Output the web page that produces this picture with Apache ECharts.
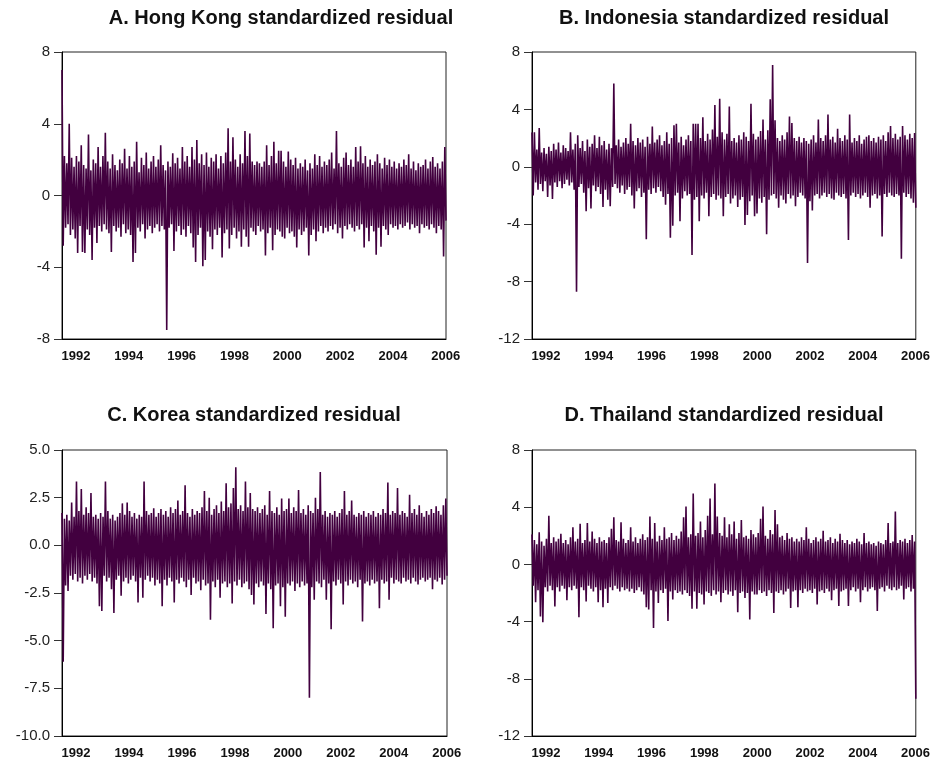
<!DOCTYPE html>
<html>
<head>
<meta charset="utf-8">
<script src="https://cdn.jsdelivr.net/npm/echarts@6/dist/echarts.min.js"></script>
<style>
html,body{margin:0;padding:0;background:#fff;}
#chart{width:933px;height:760px;}
</style>
</head>
<body>
<div id="chart"></div>
<script>
// Panel titles
const panelTitles = [
  'A. Hong Kong standardized residual',
  'B. Indonesia standardized residual',
  'C. Korea standardized residual',
  'D. Thailand standardized residual'
];
// x-axis tick labels (years)
const yearTicks = [1992, 1994, 1996, 1998, 2000, 2002, 2004, 2006];
// sample span (decimal years)
const startYear = 1991.47;
const endYear = 2006.01;

// Per-column upper / lower envelope of each residual series
const hkHi = [7.0,2.2,1.8,4.0,2.1,1.6,2.2,1.9,2.8,1.7, 1.5,3.4,1.4,2.0,1.8,2.7,1.6,2.2,3.5,1.9,
  1.5,2.3,1.7,1.4,2.0,1.8,2.6,1.5,2.2,1.6, 1.9,3.0,1.3,2.1,1.7,2.4,1.5,1.9,2.2,1.6,
  2.0,2.8,1.7,1.4,1.9,1.6,2.35,1.8,2.1,1.5, 2.7,1.9,2.2,1.6,2.7,2.0,3.1,1.8,2.3,1.7,
  2.4,1.6,2.1,1.9,2.3,1.5,2.2,1.8,2.4,3.75, 1.9,3.25,2.0,1.6,2.3,1.8,3.6,2.2,3.45,1.9,
  1.7,1.9,1.8,1.6,1.9,2.8,1.7,2.2,3.0,1.8, 2.5,2.5,1.9,1.6,2.45,2.0,1.7,2.1,1.5,1.8,
  1.6,2.0,1.4,1.8,1.5,2.3,1.7,2.2,1.6,1.9, 1.7,2.0,2.4,1.5,3.6,1.8,1.6,2.1,2.4,1.7,
  2.0,1.6,2.7,1.9,2.75,1.8,2.2,1.6,2.0,1.7, 1.9,2.3,1.8,1.5,2.1,1.7,2.0,1.6,1.9,1.5,
  1.8,1.6,2.0,1.7,2.3,1.5,1.9,1.4,1.8,1.6, 1.7,2.0,1.5,1.9,2.15,1.6,1.8,1.5,1.9,2.7];
const hkLo = [-2.8,-1.8,-1.6,-2.2,-1.9,-2.4,-3.2,-1.7,-3.15,-3.2, -1.9,-2.2,-3.6,-1.8,-2.65,-1.7,-2.0,-1.6,-1.9,-2.1,
  -3.15,-1.7,-2.0,-1.8,-2.3,-1.6,-2.1,-1.9,-2.2,-3.7, -3.2,-1.8,-2.0,-1.6,-2.4,-1.9,-1.7,-2.1,-1.8,-1.6,
  -2.0,-1.7,-1.9,-7.5,-1.8,-1.6,-3.1,-2.0,-1.7,-2.2, -1.9,-2.3,-1.7,-2.1,-2.9,-3.7,-2.2,-1.8,-3.95,-3.6,
  -2.0,-2.3,-3.0,-1.9,-2.2,-1.8,-3.45,-2.1,-1.9,-2.95, -2.2,-1.8,-2.4,-2.0,-2.85,-1.9,-2.3,-2.85,-1.8,-2.0,
  -2.2,-1.7,-2.0,-1.9,-3.35,-2.1,-1.8,-3.05,-2.2,-1.9, -2.0,-2.3,-2.4,-1.8,-2.1,-2.0,-2.3,-2.9,-1.9,-2.2,
  -2.0,-1.8,-3.35,-2.2,-1.9,-2.55,-2.0,-1.7,-2.1,-1.8, -2.0,-1.7,-1.9,-1.6,-2.1,-1.8,-2.4,-1.7,-1.9,-1.6,
  -1.8,-2.0,-1.7,-1.9,-1.6,-2.9,-1.8,-2.55,-1.7,-2.0, -3.3,-1.8,-2.85,-1.7,-1.9,-2.2,-1.6,-1.8,-1.7,-1.9,
  -1.6,-1.8,-1.7,-1.5,-1.9,-1.6,-1.8,-1.7,-2.1,-1.6, -1.8,-1.7,-1.9,-1.6,-1.8,-2.1,-1.7,-1.9,-3.4,-1.4];

const idHi = [2.4,2.4,1.2,2.7,1.0,1.3,0.9,1.4,1.1,1.6, 1.2,1.7,1.0,1.5,1.3,1.1,2.4,1.2,1.6,2.2,
  1.3,1.8,1.1,1.9,1.4,1.6,2.2,1.3,2.1,1.5, 1.8,1.2,1.6,1.3,5.8,1.5,1.9,1.4,1.7,2.0,
  1.6,3.0,1.8,1.5,2.0,1.7,1.9,1.4,2.1,1.6, 2.8,1.7,1.9,2.2,1.5,1.8,2.4,1.6,2.0,2.9,
  3.0,1.7,2.1,1.5,1.9,2.2,1.8,3.0,3.0,3.0, 2.0,3.45,1.8,2.3,1.9,2.6,4.3,2.1,4.75,2.4,
  1.9,2.3,4.2,1.8,2.0,1.7,2.2,1.9,2.4,2.1, 1.8,4.4,2.3,1.9,2.1,2.5,3.3,1.9,2.55,4.7,
  7.1,3.25,2.0,1.8,2.2,1.9,2.4,3.5,3.05,2.0, 1.8,2.1,1.7,2.0,1.8,1.6,1.9,2.2,1.7,3.3,
  2.0,1.8,2.2,3.65,1.9,2.1,1.7,2.65,2.0,1.8, 2.2,1.9,3.65,1.7,2.0,1.8,2.2,1.6,1.9,2.1,
  2.2,1.8,2.0,1.7,2.1,1.9,2.2,1.8,2.4,2.85, 2.0,2.3,1.9,2.1,2.85,2.2,1.9,2.3,2.0,2.35];
const idLo = [-2.0,-1.1,-1.6,-1.2,-1.7,-1.0,-2.1,-1.3,-2.25,-1.1, -1.4,-1.0,-1.5,-1.2,-0.9,-1.3,-1.1,-1.6,-8.7,-1.4,
  -1.2,-1.8,-3.1,-1.5,-2.9,-1.3,-1.7,-1.4,-1.9,-2.8, -1.6,-2.3,-2.75,-1.4,-1.2,-1.5,-1.8,-1.3,-1.9,-1.6,
  -1.4,-2.0,-2.9,-1.7,-1.5,-2.1,-1.8,-5.05,-1.6,-1.9, -1.5,-1.8,-1.4,-1.7,-2.1,-2.65,-1.9,-4.95,-4.1,-2.0,
  -1.8,-3.8,-2.2,-1.7,-2.0,-1.9,-6.15,-2.3,-2.1,-3.8, -2.0,-2.2,-1.8,-3.45,-2.1,-1.9,-2.3,-2.0,-2.2,-3.45,
  -2.1,-1.9,-2.55,-2.2,-2.0,-2.8,-2.3,-2.1,-4.05,-3.35, -2.4,-2.0,-3.45,-3.25,-2.2,-2.5,-2.1,-4.7,-2.3,-2.0,
  -1.9,-2.2,-2.85,-2.0,-2.3,-2.55,-1.9,-2.2,-2.0,-2.75, -2.1,-1.8,-2.0,-2.2,-6.7,-2.4,-3.05,-2.0,-1.9,-2.2,
  -2.0,-1.8,-2.1,-1.9,-2.2,-2.3,-1.8,-2.0,-2.1,-1.9, -2.2,-5.1,-2.0,-1.8,-2.1,-1.9,-2.2,-2.0,-1.8,-2.1,
  -2.85,-2.0,-1.9,-2.2,-2.0,-4.85,-1.9,-2.1,-1.8,-2.0, -2.1,-1.9,-2.0,-6.4,-1.8,-2.1,-1.9,-2.2,-2.5,-2.85];

const krHi = [1.7,1.4,1.6,1.3,2.25,1.5,3.35,1.8,2.95,1.6, 2.0,1.7,2.75,1.5,1.6,1.4,1.7,1.5,3.35,1.8,
  1.4,1.6,1.3,1.5,1.7,2.2,1.6,2.25,1.8,1.5, 1.7,1.4,1.6,1.5,3.35,1.8,1.6,1.7,1.95,1.5,
  1.7,1.9,1.6,1.8,1.5,2.0,1.7,1.9,2.35,1.6, 1.8,3.15,1.7,1.5,1.9,1.6,1.8,1.7,2.0,2.85,
  1.8,2.5,1.6,1.9,2.1,1.7,2.3,1.8,3.25,2.0, 2.2,3.0,4.1,1.9,2.1,1.8,3.35,2.0,2.75,1.9,
  1.8,2.0,1.7,1.9,2.1,1.6,2.85,1.8,1.7,2.0, 1.6,2.45,1.8,1.9,2.45,1.7,2.0,1.8,2.9,1.7,
  1.9,1.6,2.1,1.8,1.7,2.5,1.9,3.85,1.6,1.8, 1.5,1.7,1.6,1.8,1.5,1.7,1.9,2.85,1.6,1.8,
  2.35,1.6,1.5,1.7,1.6,1.8,1.5,1.7,1.6,1.8, 1.5,1.7,1.6,1.9,1.7,3.3,1.6,1.8,1.7,3.0,
  1.6,1.8,1.7,1.5,2.65,1.7,1.9,1.6,2.1,1.7, 1.5,1.8,1.6,1.9,1.7,2.05,1.8,1.6,2.1,2.45];
const krLo = [-6.1,-2.1,-2.4,-1.6,-1.8,-1.5,-1.9,-1.7,-2.0,-1.6, -1.8,-1.5,-1.9,-1.7,-2.0,-3.2,-3.45,-1.6,-1.9,-1.7,
  -2.3,-3.55,-1.8,-1.6,-2.65,-1.9,-1.7,-2.0,-1.8,-1.6, -1.9,-3.0,-1.7,-2.75,-1.8,-1.6,-1.9,-1.7,-2.1,-1.8,
  -2.0,-3.2,-1.8,-2.1,-1.7,-1.9,-3.0,-1.8,-2.0,-1.7, -1.9,-2.2,-1.8,-2.6,-1.7,-2.0,-1.9,-2.35,-1.8,-2.1,
  -2.0,-3.9,-1.9,-2.2,-1.8,-2.75,-2.0,-1.9,-2.2,-2.0, -3.05,-1.9,-2.1,-1.8,-2.2,-2.0,-1.9,-2.3,-2.6,-3.1,
  -2.0,-2.2,-1.9,-2.1,-3.6,-2.0,-2.3,-4.35,-2.1,-2.0, -3.2,-2.2,-3.75,-2.0,-2.1,-1.9,-2.4,-2.0,-2.2,-1.9,
  -2.1,-2.0,-8.0,-2.2,-2.85,-1.9,-2.0,-2.2,-1.8,-2.85, -2.0,-4.4,-1.9,-2.1,-1.8,-2.0,-3.1,-1.9,-2.1,-1.8,
  -2.0,-1.9,-2.2,-1.8,-4.0,-2.0,-1.9,-2.1,-1.8,-2.0, -1.9,-3.3,-1.8,-2.0,-1.9,-2.85,-1.7,-2.0,-1.8,-1.9,
  -2.0,-1.7,-1.9,-1.8,-2.0,-1.7,-1.9,-2.05,-1.8,-1.7, -1.9,-1.8,-1.7,-2.3,-1.8,-1.9,-1.7,-2.05,-1.8,-1.6];

const thHi = [2.1,1.7,1.4,2.25,1.6,1.3,1.8,3.4,1.5,1.9, 1.6,1.8,2.15,1.5,1.7,1.4,1.9,2.6,1.6,1.8,
  2.85,1.5,1.7,2.9,1.6,2.3,1.8,1.5,1.9,1.6, 1.7,1.5,1.9,2.5,3.3,1.7,1.6,2.95,1.8,1.5,
  1.7,2.6,1.6,1.9,1.5,1.8,2.1,1.7,1.9,3.35, 1.8,2.9,1.6,2.0,1.7,2.6,1.8,1.9,2.2,1.7,
  2.0,1.8,2.3,3.3,4.05,1.9,2.1,4.95,2.0,2.2, 3.0,1.9,2.4,3.4,4.6,2.1,5.65,3.35,2.2,2.0,
  3.3,1.9,2.8,2.1,3.0,1.8,2.2,3.1,1.9,2.0, 1.8,2.4,2.1,1.9,2.2,3.2,4.05,2.0,1.8,2.4,
  2.1,3.8,2.8,1.9,2.0,1.7,2.2,1.8,1.9,1.6, 1.8,1.6,1.9,1.7,2.6,1.8,1.5,1.7,1.9,1.6,
  1.8,2.35,1.6,1.7,1.9,1.5,1.8,1.6,2.15,1.7, 1.5,1.7,1.4,1.6,1.5,1.8,1.6,1.4,2.2,1.5,
  1.6,1.4,1.5,1.3,1.6,1.5,1.4,1.7,2.9,1.5, 1.6,3.7,1.5,1.7,1.6,1.8,1.5,1.7,2.05,1.6];
const thLo = [-1.5,-2.65,-1.8,-3.65,-4.05,-1.6,-1.9,-1.5,-1.8,-2.95, -1.6,-1.9,-1.5,-1.7,-2.5,-1.6,-1.8,-1.5,-1.7,-3.7,
  -1.6,-1.8,-2.6,-1.5,-1.7,-1.9,-1.6,-2.65,-1.8,-3.0, -1.7,-2.7,-1.6,-1.8,-1.5,-1.7,-1.9,-1.6,-1.8,-1.7,
  -1.9,-1.7,-2.0,-1.8,-1.6,-1.9,-2.1,-3.0,-3.15,-1.8, -4.45,-1.9,-2.7,-1.8,-2.0,-1.7,-3.95,-1.9,-2.45,-1.8,
  -2.0,-1.9,-2.1,-1.8,-2.0,-2.2,-3.1,-1.9,-3.1,-2.0, -2.1,-2.8,-1.9,-2.0,-2.2,-1.8,-2.1,-1.9,-2.65,-2.0,
  -1.8,-2.1,-1.9,-2.2,-1.8,-3.35,-2.0,-1.9,-2.35,-2.0, -3.85,-1.9,-2.1,-2.1,-1.8,-2.0,-1.9,-2.2,-1.8,-2.0,
  -3.4,-1.9,-2.0,-1.8,-2.1,-1.9,-1.7,-3.05,-1.9,-1.8, -3.0,-1.8,-2.0,-1.7,-1.9,-1.8,-2.0,-1.7,-2.8,-1.9,
  -1.8,-2.0,-1.7,-1.9,-2.5,-1.8,-1.7,-2.9,-1.9,-1.8, -1.7,-2.9,-1.8,-1.6,-1.9,-1.7,-2.65,-1.8,-1.6,-1.9,
  -1.7,-1.6,-1.8,-3.25,-1.7,-1.6,-1.9,-1.5,-1.7,-1.8, -1.6,-1.8,-1.7,-1.5,-2.45,-1.7,-1.6,-1.9,-1.7,-9.4];

const panels = [
  {title: panelTitles[0], hi: hkHi, lo: hkLo, yMin: -8, yMax: 8, yStep: 4, dec: 0,
   grid: {left: 62, top: 52, width: 384, height: 287}, titleX: 281, titleY: 8},
  {title: panelTitles[1], hi: idHi, lo: idLo, yMin: -12, yMax: 8, yStep: 4, dec: 0,
   grid: {left: 532, top: 52, width: 384, height: 287}, titleX: 724, titleY: 8},
  {title: panelTitles[2], hi: krHi, lo: krLo, yMin: -10, yMax: 5, yStep: 2.5, dec: 1,
   grid: {left: 62, top: 450, width: 385, height: 286}, titleX: 254, titleY: 405},
  {title: panelTitles[3], hi: thHi, lo: thLo, yMin: -12, yMax: 8, yStep: 4, dec: 0,
   grid: {left: 532, top: 450, width: 385, height: 286}, titleX: 724, titleY: 405}
];

function buildSeriesData(hi, lo) {
  const n = hi.length;
  const step = (endYear - startYear) / (n - 0.5);
  const out = [];
  for (let i = 0; i < n; i++) {
    out.push([startYear + i * step, hi[i]]);
    out.push([startYear + (i + 0.5) * step, lo[i]]);
  }
  return out;
}

const option = {
  animation: false,
  backgroundColor: '#ffffff',
  title: panels.map(p => ({
    text: p.title, left: p.titleX, top: p.titleY, textAlign: 'center', padding: 0,
    textStyle: {fontFamily: 'Liberation Sans, Arial, sans-serif', fontSize: 20, fontWeight: 'bold', color: '#111'}
  })),
  grid: panels.map(p => Object.assign({show: true, borderColor: '#222', borderWidth: 1, backgroundColor: 'transparent'}, p.grid)),
  xAxis: panels.map((p, k) => ({
    type: 'value', gridIndex: k, min: startYear, max: endYear,
    axisLine: {show: true, onZero: false, lineStyle: {color: '#000', width: 1}},
    axisTick: {show: false},
    splitLine: {show: false},
    axisLabel: {
      customValues: yearTicks, margin: 11,
      formatter: v => String(Math.round(v)),
      fontFamily: 'Liberation Sans, Arial, sans-serif', fontSize: 13, fontWeight: 'bold', color: '#111'
    }
  })),
  yAxis: panels.map((p, k) => ({
    type: 'value', gridIndex: k, min: p.yMin, max: p.yMax, interval: p.yStep,
    axisLine: {show: true, onZero: false, lineStyle: {color: '#000', width: 1}},
    axisTick: {show: true, length: 8, lineStyle: {color: '#333'}},
    splitLine: {show: false},
    axisLabel: {
      margin: 12, formatter: v => v.toFixed(p.dec),
      fontFamily: 'Liberation Sans, Arial, sans-serif', fontSize: 15, color: '#222'
    }
  })),
  series: panels.map((p, k) => ({
    type: 'line', xAxisIndex: k, yAxisIndex: k, name: p.title,
    data: buildSeriesData(p.hi, p.lo),
    showSymbol: false, symbol: 'none',
    lineStyle: {color: '#42003f', width: 1.6, join: 'bevel'},
    clip: true
  }))
};

const chart = echarts.init(document.getElementById('chart'), null, {renderer: 'canvas'});
chart.setOption(option);
</script>
</body>
</html>
